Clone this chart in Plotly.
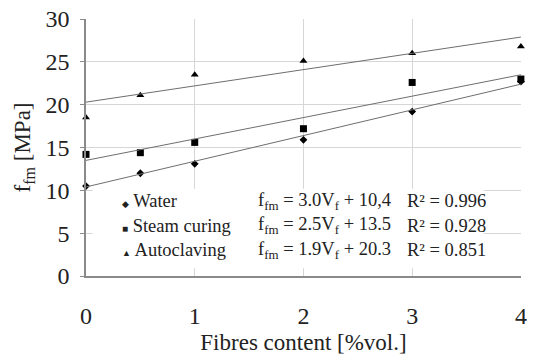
import numpy as np
import plotly.graph_objects as go

# Fibre content [%vol.]
fibres = [0, 0.5, 1, 2, 3, 4]

# Flexural strength f_fm [MPa] for each curing regime
water = [10.5, 12.0, 13.1, 15.9, 19.2, 22.7]
steam = [14.2, 14.4, 15.6, 17.2, 22.6, 23.0]
autoclave = [18.5, 21.1, 23.5, 25.1, 26.0, 26.8]

# Linear regression coefficients and R^2 per series
names = ["Water", "Steam curing", "Autoclaving"]
slopes = [3.0, 2.5, 1.9]
intercepts = [10.4, 13.5, 20.3]
intercept_text = ["10,4", "13.5", "20.3"]
r2 = [0.996, 0.928, 0.851]

symbols = ["diamond", "square", "triangle-up"]
sizes = [6, 7, 7]
legend_glyphs = ["◆", "■", "▲"]
glyph_sizes = [9, 10, 9]

FONT = "Liberation Serif"
TXT = "#222222"
fig = go.Figure()

for ys, sym, sz in zip([water, steam, autoclave], symbols, sizes):
    fig.add_trace(go.Scatter(
        x=fibres, y=ys, mode="markers",
        marker=dict(symbol=sym, size=sz, color="black", line=dict(width=0)),
        cliponaxis=False, showlegend=False, hoverinfo="x+y",
    ))

xfit = np.array([0.0, 4.0])
for a, b in zip(slopes, intercepts):
    fig.add_trace(go.Scatter(
        x=xfit, y=a * xfit + b, mode="lines",
        line=dict(color="#6e6e6e", width=1),
        cliponaxis=False, showlegend=False, hoverinfo="skip",
    ))

# white panel behind the key and the regression equations
fig.add_shape(type="rect", xref="x", yref="y", x0=0.06, x1=3.66, y0=0.9, y1=10.2,
              fillcolor="white", line=dict(width=0), layer="between")

row_y = [8.7, 5.85, 3.0]
for i in range(3):
    fig.add_annotation(
        x=0.31, y=row_y[i], xref="x", yref="y", xanchor="left", yanchor="middle",
        text=f"<span style='font-size:{glyph_sizes[i]}px'>{legend_glyphs[i]}</span> {names[i]}",
        showarrow=False, font=dict(family=FONT, size=18.5, color=TXT),
    )
    fig.add_annotation(
        x=1.56, y=row_y[i], xref="x", yref="y", xanchor="left", yanchor="middle",
        text=f"f<sub>fm</sub> = {slopes[i]:.1f}V<sub>f</sub> + {intercept_text[i]}",
        showarrow=False, font=dict(family=FONT, size=18.5, color=TXT),
    )
    fig.add_annotation(
        x=2.93, y=row_y[i], xref="x", yref="y", xanchor="left", yanchor="middle",
        text=f"R² = {r2[i]:.3f}",
        showarrow=False, font=dict(family=FONT, size=18.5, color=TXT),
    )

fig.update_layout(
    width=533, height=363,
    margin=dict(l=86, r=6, t=11, b=87),
    paper_bgcolor="white", plot_bgcolor="white",
    font=dict(family=FONT, color=TXT),
    xaxis=dict(
        range=[0, 4.001], tickvals=[0, 1, 2, 3, 4],
        showgrid=True, gridcolor="#d6d6d6", gridwidth=1,
        showline=True, linecolor="#8a8a8a", linewidth=1.5,
        ticks="", ticklabelstandoff=17, zeroline=False, ticklabeloverflow="allow",
        tickfont=dict(family=FONT, size=24, color=TXT),
        title=dict(text="Fibres content [%vol.]", standoff=6,
                   font=dict(family=FONT, size=23, color=TXT)),
    ),
    yaxis=dict(
        range=[0, 30.01], tickvals=[0, 5, 10, 15, 20, 25, 30],
        showgrid=True, gridcolor="#d6d6d6", gridwidth=1,
        showline=True, linecolor="#8a8a8a", linewidth=1.5,
        ticks="outside", ticklen=4, tickcolor="#8a8a8a",
        ticklabelstandoff=6, zeroline=False, ticklabeloverflow="allow",
        tickfont=dict(family=FONT, size=24, color=TXT),
        title=dict(text="f<sub>fm</sub> [MPa]", standoff=8,
                   font=dict(family=FONT, size=23, color=TXT)),
    ),
)

fig.write_html("out.html")
